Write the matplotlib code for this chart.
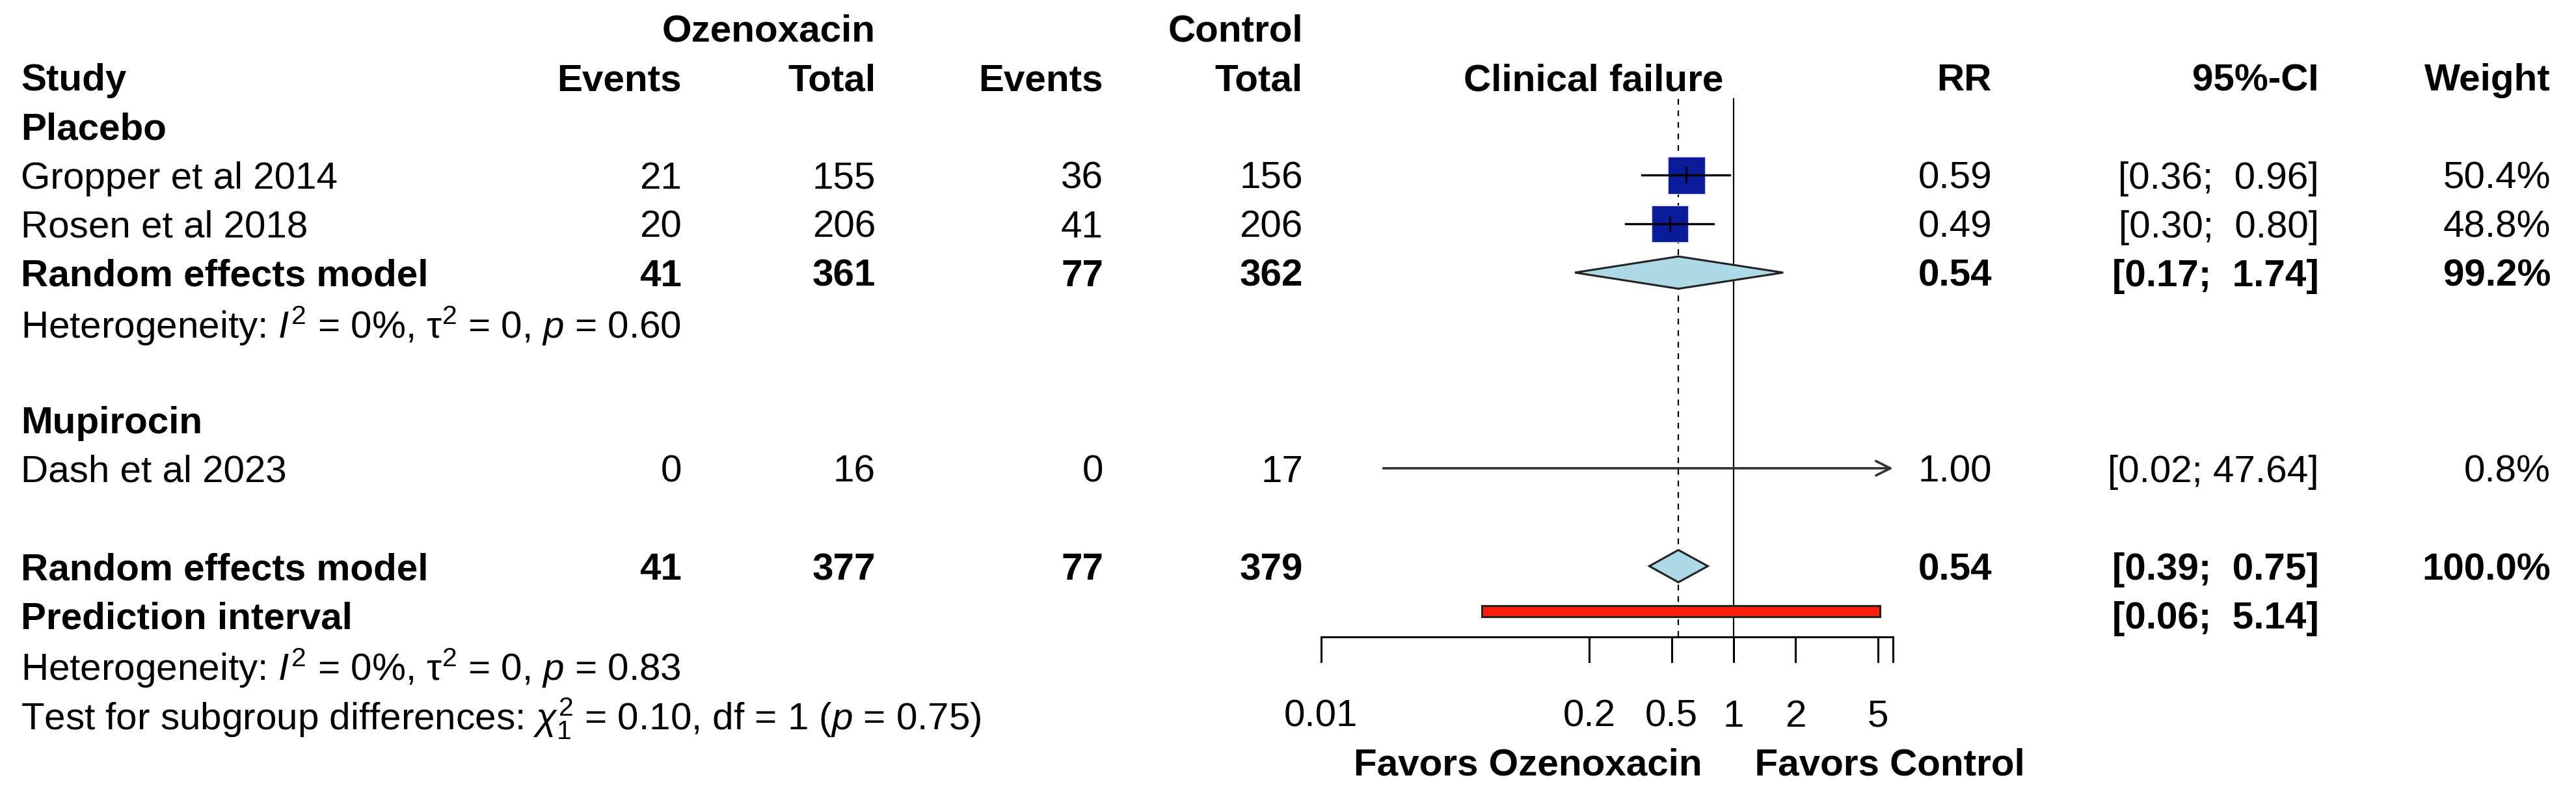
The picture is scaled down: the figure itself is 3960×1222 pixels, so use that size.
import numpy as np
import matplotlib
matplotlib.use("Agg")
import matplotlib.pyplot as plt
from matplotlib.patches import Polygon, Rectangle

plt.rcParams['font.family'] = ['Liberation Sans', 'DejaVu Sans']
plt.rcParams['mathtext.fontset'] = 'custom'
plt.rcParams['mathtext.rm'] = 'Liberation Sans'
plt.rcParams['mathtext.it'] = 'Liberation Sans:italic'
plt.rcParams['mathtext.bf'] = 'Liberation Sans:bold'

# ------------------------
# Data
# ------------------------
studies = ["Gropper et al 2014", "Rosen et al 2018", "Dash et al 2023"]
study_rows = [3, 4, 9]
ev_trt = [21, 20, 0]
n_trt = [155, 206, 16]
ev_ctl = [36, 41, 0]
n_ctl = [156, 206, 17]
rr = [0.59, 0.49, 1.00]
ci_lo = [0.36, 0.30, 0.02]
ci_hi = [0.96, 0.80, 47.64]
ci_txt = ["[0.36;  0.96]", "[0.30;  0.80]", "[0.02; 47.64]"]
weights = ["50.4%", "48.8%", "0.8%"]
weight_vals = [50.4, 48.8, 0.8]

pooled_labels = ["Random effects model", "Random effects model"]
pooled_rows = [5, 11]
pooled_ev_trt = [41, 41]
pooled_n_trt = [361, 377]
pooled_ev_ctl = [77, 77]
pooled_n_ctl = [362, 379]
pooled_rr = [0.54, 0.54]
pooled_lo = [0.17, 0.39]
pooled_hi = [1.74, 0.75]
pooled_ci_txt = ["[0.17;  1.74]", "[0.39;  0.75]"]
pooled_weight = ["99.2%", "100.0%"]

pred_lo, pred_hi = 0.06, 5.14
pred_ci_txt = "[0.06;  5.14]"

subgroups = ["Placebo", "Mupirocin"]
subgroup_rows = [2, 8]

het_texts = [r"Heterogeneity: $I^2$ = 0%, $\mathrm{\tau}^2$ = 0, $p$ = 0.60",
             r"Heterogeneity: $I^2$ = 0%, $\mathrm{\tau}^2$ = 0, $p$ = 0.83",
             r"Test for subgroup differences: $\chi^2_1$ = 0.10, df = 1 ($p$ = 0.75)"]
het_rows = [6, 13, 14]

overall_est = 0.54
axis_ticks = [0.01, 0.2, 0.5, 1, 2, 5]
axis_tick_labels = ["0.01", "0.2", "0.5", "1", "2", "5"]
axis_end = 5.93

# ------------------------
# Layout
# ------------------------
W, H, DPI = 3960, 1222, 100
row0, dy = 43, 75.2
ylim = ((H - row0) / dy, -row0 / dy)

fig = plt.figure(figsize=(W / DPI, H / DPI), dpi=DPI)
tx = fig.add_axes([0, 0, 1, 1])
tx.set_xlim(0, W)
tx.set_ylim(*ylim)
tx.axis("off")

# forest panel: log scale, 1 at x=2665 px, 317 px per decade
fx0, fx1 = 2000, 2960
fx = fig.add_axes([fx0 / W, 0, (fx1 - fx0) / W, 1])
fx.set_xscale("log")
fx.set_xlim(10 ** ((fx0 - 2665) / 317), 10 ** ((fx1 - 2665) / 317))
fx.set_ylim(*ylim)
fx.axis("off")

fs = 42
col_study = 32
col_ev1, col_n1, col_ev2, col_n2 = 1048, 1346, 1696, 2003
col_rr, col_ci, col_w = 3062, 3565, 3921


def put(x, r, s, ha="right", bold=False):
    tx.text(x, r, s, ha=ha, va="center_baseline", fontsize=fs,
            fontweight="bold" if bold else "normal", color="black")


# headers
put(col_n1, 0, "Ozenoxacin", bold=True)
put(col_n2, 0, "Control", bold=True)
put(col_study, 1, "Study", ha="left", bold=True)
put(col_ev1, 1, "Events", bold=True)
put(col_n1, 1, "Total", bold=True)
put(col_ev2, 1, "Events", bold=True)
put(col_n2, 1, "Total", bold=True)
put(2450, 1, "Clinical failure", ha="center", bold=True)
put(col_rr, 1, "RR", bold=True)
put(col_ci, 1, "95%-CI", bold=True)
put(col_w, 1, "Weight", bold=True)

for name, r in zip(subgroups, subgroup_rows):
    put(col_study, r, name, ha="left", bold=True)

for i, r in enumerate(study_rows):
    put(col_study, r, studies[i], ha="left")
    put(col_ev1, r, str(ev_trt[i]))
    put(col_n1, r, str(n_trt[i]))
    put(col_ev2, r, str(ev_ctl[i]))
    put(col_n2, r, str(n_ctl[i]))
    put(col_rr, r, f"{rr[i]:.2f}")
    put(col_ci, r, ci_txt[i])
    put(col_w, r, weights[i])

for i, r in enumerate(pooled_rows):
    put(col_study, r, pooled_labels[i], ha="left", bold=True)
    put(col_ev1, r, str(pooled_ev_trt[i]), bold=True)
    put(col_n1, r, str(pooled_n_trt[i]), bold=True)
    put(col_ev2, r, str(pooled_ev_ctl[i]), bold=True)
    put(col_n2, r, str(pooled_n_ctl[i]), bold=True)
    put(col_rr, r, f"{pooled_rr[i]:.2f}", bold=True)
    put(col_ci, r, pooled_ci_txt[i], bold=True)
    put(col_w, r, pooled_weight[i], bold=True)

put(col_study, 12, "Prediction interval", ha="left", bold=True)
put(col_ci, 12, pred_ci_txt, bold=True)

for s, r in zip(het_texts, het_rows):
    put(col_study, r, s, ha="left")

# ------------------------
# Forest panel
# ------------------------
r_top, r_axis = 1.45, 12.45
fx.plot([1, 1], [r_top, r_axis], color="black", lw=1.6, zorder=1)
fx.plot([overall_est, overall_est], [r_top, r_axis], color="black", lw=1.6,
        ls=(0, (4, 4)), zorder=1)

sq_px = 57
for i, r in enumerate(study_rows):
    if ci_hi[i] > axis_end:
        fx.annotate("", xy=(axis_end, r), xytext=(ci_lo[i], r),
                    arrowprops=dict(arrowstyle="->", color="#333333", lw=2.6,
                                    mutation_scale=40, shrinkA=0, shrinkB=0))
        continue
    side = sq_px * np.sqrt(weight_vals[i] / weight_vals[0]) * 72 / DPI
    fx.scatter([rr[i]], [r], marker="s", s=side ** 2, color="#0b1c9b",
               edgecolors="#c9cde6", linewidths=0.8, zorder=3)
    fx.plot([ci_lo[i], ci_hi[i]], [r, r], color="black", lw=2.4, zorder=4)
    fx.plot([rr[i], rr[i]], [r - 0.15, r + 0.15], color="black", lw=2.0, zorder=4)

dh = 0.33
for i, r in enumerate(pooled_rows):
    poly = Polygon([[pooled_lo[i], r], [pooled_rr[i], r - dh],
                    [pooled_hi[i], r], [pooled_rr[i], r + dh]],
                   closed=True, facecolor="#add8e6", edgecolor="#222222",
                   lw=2.2, zorder=3)
    fx.add_patch(poly)

fx.add_patch(Rectangle((pred_lo, 12 - 0.08 - 0.11), pred_hi - pred_lo, 0.22,
                       facecolor="#ff1f0a", edgecolor="#222222", lw=2.2, zorder=3))

# x axis drawn by hand at the bottom of the panel
fx.plot([axis_ticks[0], axis_end], [r_axis, r_axis], color="black", lw=2.2,
        solid_capstyle="butt")
for t in axis_ticks + [axis_end]:
    fx.plot([t, t], [r_axis, r_axis + 0.5], color="black", lw=2.2)
for t, lab in zip(axis_ticks, axis_tick_labels):
    fx.text(t, 14, lab, ha="center", va="center_baseline", fontsize=fs)

fx.text(1, 15, "Favors Ozenoxacin   ", ha="right", va="center_baseline",
        fontsize=fs, fontweight="bold")
fx.text(1, 15, "  Favors Control", ha="left", va="center_baseline",
        fontsize=fs, fontweight="bold")

fig.savefig("out.png", dpi=DPI, facecolor="white")
